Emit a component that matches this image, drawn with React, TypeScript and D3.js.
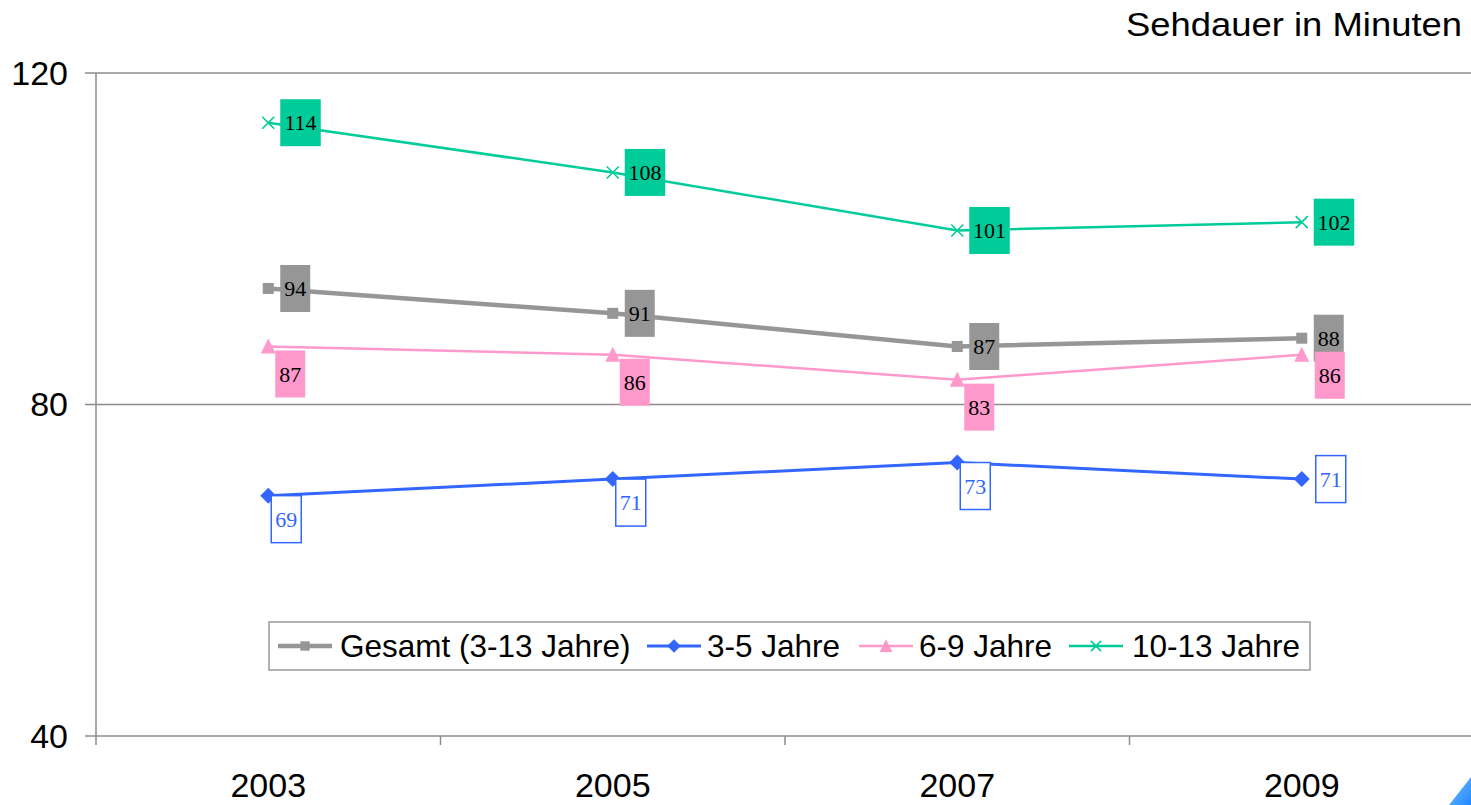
import * as d3 from 'd3';

const years = ['2003', '2005', '2007', '2009'];
const seriesNames = ['Gesamt (3-13 Jahre)', '3-5 Jahre', '6-9 Jahre', '10-13 Jahre'];
const gesamt = [94, 91, 87, 88];
const jahre3to5 = [69, 71, 73, 71];
const jahre6to9 = [87, 86, 83, 86];
const jahre10to13 = [114, 108, 101, 102];
const yTicks = [40, 80, 120];

const W = 1471;
const H = 805;

const colors = ['#969696', '#3366ff', '#ff99cc', '#00cc99'];
const widths = [4.5, 3, 2.5, 2.5];
const markers = ['square', 'diamond', 'triangle', 'cross'];

const x = d3.scaleBand().domain(years).range([96, 1474]);
const y = d3.scaleLinear().domain([40, 120]).range([736, 73]);
const cx = (yr: string) => (x(yr) ?? 0) + x.bandwidth() / 2;

const Marker = ({ kind, px, py, color, s = 1 }: { kind: string; px: number; py: number; color: string; s?: number }) => {
  if (kind === 'square') return <rect x={px - 5.5 * s} y={py - 5.5 * s} width={11 * s} height={11 * s} fill={color} />;
  if (kind === 'diamond') return <path d={`M${px},${py - 8 * s}L${px + 8 * s},${py}L${px},${py + 8 * s}L${px - 8 * s},${py}Z`} fill={color} />;
  if (kind === 'triangle') return <path d={`M${px},${py - 8 * s}L${px + 7.5 * s},${py + 7 * s}L${px - 7.5 * s},${py + 7 * s}Z`} fill={color} />;
  return (
    <path d={`M${px - 6 * s},${py - 6 * s}L${px + 6 * s},${py + 6 * s}M${px + 6 * s},${py - 6 * s}L${px - 6 * s},${py + 6 * s}`} stroke={color} strokeWidth={1.6} fill="none" />
  );
};

// where the value box sits relative to its point
function labelBox(si: number, i: number, px: number, py: number, w: number) {
  const h = 47;
  const last = i === years.length - 1;
  if (si === 2) return last ? { bx: px + 13, by: py - 3, w, h } : { bx: px + 7, by: py + 4, w, h };
  if (si === 1) return last ? { bx: px + 14, by: py - h / 2, w, h } : { bx: px + 3, by: py, w, h };
  return { bx: px + 12, by: py - h / 2, w, h };
}

export default function App() {
  const series = [gesamt, jahre3to5, jahre6to9, jahre10to13];
  const line = d3.line<number>().x((_, i) => cx(years[i])).y(d => y(d));

  const legendItems = [
    { x0: 278, tx: 340 },
    { x0: 647, tx: 707 },
    { x0: 859, tx: 919 },
    { x0: 1069, tx: 1132 },
  ];

  return (
    <svg width={W} height={H} style={{ position: 'absolute', left: 0, top: 0 }} fontFamily="Liberation Sans, Arial, sans-serif">
      <rect width={W} height={H} fill="#fff" />

      {/* gridlines */}
      {yTicks.map(t => (
        <g key={t}>
          <line x1={85} x2={W} y1={y(t)} y2={y(t)} stroke="#8c8c8c" strokeWidth={1.5} />
          <text x={68} y={y(t)} dy="0.35em" textAnchor="end" fontSize={34} fill="#000">{t}</text>
        </g>
      ))}
      <line x1={96} x2={96} y1={y(120)} y2={y(40) + 9} stroke="#8c8c8c" strokeWidth={1.5} />
      {years.map(yr => (
        <line key={yr} x1={(x(yr) ?? 0) + x.bandwidth()} x2={(x(yr) ?? 0) + x.bandwidth()} y1={y(40)} y2={y(40) + 9} stroke="#8c8c8c" strokeWidth={1.5} />
      ))}
      {years.map(yr => (
        <text key={yr} x={cx(yr)} y={797} textAnchor="middle" fontSize={34}>{yr}</text>
      ))}

      <text x={1462} y={36} textAnchor="end" fontSize={33} textLength={336} lengthAdjust="spacingAndGlyphs">Sehdauer in Minuten</text>

      {/* lines and markers */}
      {series.map((vals, si) => (
        <g key={si}>
          <path d={line(vals) ?? ''} fill="none" stroke={colors[si]} strokeWidth={widths[si]} />
          {vals.map((v, i) => (
            <Marker key={i} kind={markers[si]} px={cx(years[i])} py={y(v)} color={colors[si]} />
          ))}
        </g>
      ))}

      {/* value labels */}
      {series.map((vals, si) =>
        vals.map((v, i) => {
          const px = cx(years[i]);
          const py = y(v);
          const w = String(v).length * 10.5 + 9;
          const b = labelBox(si, i, px, py, w);
          const isBlue = si === 1;
          return (
            <g key={`${si}-${i}`}>
              <rect
                x={b.bx}
                y={b.by}
                width={b.w}
                height={b.h}
                fill={isBlue ? '#fff' : colors[si]}
                stroke={isBlue ? colors[1] : 'none'}
                strokeWidth={1.5}
              />
              <text
                x={b.bx + b.w / 2}
                y={b.by + b.h / 2}
                dy="0.35em"
                textAnchor="middle"
                fontFamily="Liberation Serif, Times New Roman, serif"
                fontSize={22}
                fill={isBlue ? colors[1] : '#000'}
              >
                {v}
              </text>
            </g>
          );
        })
      )}

      {/* legend */}
      <rect x={269} y={622} width={1041} height={48} fill="#fff" stroke="#999" strokeWidth={1.5} />
      {seriesNames.map((name, si) => {
        const it = legendItems[si];
        return (
          <g key={name}>
            <line x1={it.x0} x2={it.x0 + 54} y1={646} y2={646} stroke={colors[si]} strokeWidth={widths[si]} />
            <Marker kind={markers[si]} px={it.x0 + 27} py={646} color={colors[si]} s={0.85} />
            <text x={it.tx} y={657} fontSize={31.5}>{name}</text>
          </g>
        );
      })}

      {/* page corner */}
      <defs>
        <linearGradient id="corner" x1="0" y1="0" x2="1" y2="1">
          <stop offset="0" stopColor="#7fc0ff" />
          <stop offset="1" stopColor="#1e88ff" />
        </linearGradient>
      </defs>
      <path d={`M${W - 22},${H}L${W},${H - 28}L${W},${H}Z`} fill="url(#corner)" />
    </svg>
  );
}
